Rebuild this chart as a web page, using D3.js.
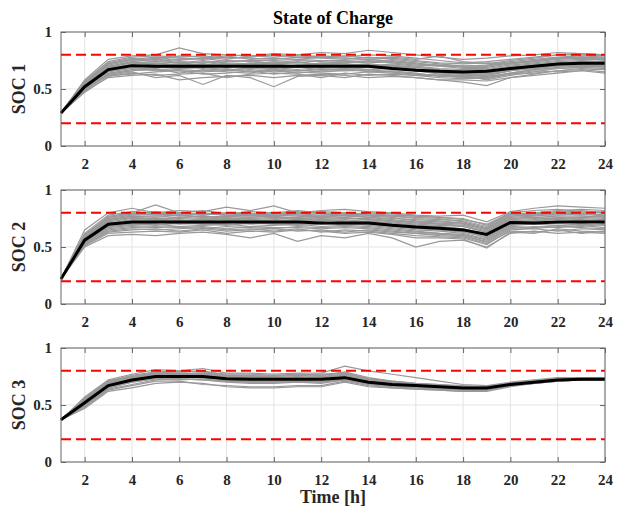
<!doctype html>
<html lang="en">
  <head>
    <meta charset="utf-8">
    <title>State of Charge</title>
    <style>
      body { margin: 0; background: #fff; }
      text { font-family: "Liberation Serif", "Times New Roman", serif; font-weight: bold; }
      .tick text { fill: #262626; font-size: 15px; }
      .domain { display: none; }
      .tick line { stroke: #666; }
    </style>
  </head>
  <body>
    <div id="chart"></div>
    <script src="https://d3js.org/d3.v7.min.js"></script>
    <script type="text/javascript">
      const w = 617;
      const h = 511;

      const hours = d3.range(1, 25);
      const xTicks = [2, 4, 6, 8, 10, 12, 14, 16, 18, 20, 22, 24];
      const yTicks = [0, 0.5, 1];
      const limits = [0.2, 0.8];

      // mean trajectories (black)
      const mean1 = [.29,.52,.67,.705,.70,.70,.70,.70,.70,.70,.70,.70,.70,.70,.68,.665,.655,.65,.655,.68,.70,.72,.725,.725];
      const mean2 = [.22,.56,.70,.72,.72,.72,.72,.72,.72,.72,.72,.71,.71,.71,.69,.675,.665,.65,.61,.715,.71,.72,.72,.72];
      const mean3 = [.37,.52,.67,.72,.75,.75,.75,.73,.725,.725,.725,.725,.74,.70,.68,.67,.66,.65,.65,.68,.70,.72,.725,.725];

      // scenario trajectories (gray)
      const soc1 = [
        [.29,.58,.76,.79,.80,.86,.81,.80,.79,.81,.80,.82,.81,.84,.82,.80,.78,.76,.77,.79,.80,.82,.81,.80],
        [.29,.50,.62,.65,.60,.62,.54,.62,.60,.52,.61,.62,.60,.63,.62,.60,.58,.56,.53,.60,.63,.66,.67,.65],
        [.29,.55,.72,.76,.78,.77,.76,.78,.77,.76,.78,.77,.76,.78,.76,.74,.72,.70,.71,.74,.76,.78,.79,.78],
        [.29,.48,.60,.62,.63,.58,.60,.61,.62,.60,.62,.63,.62,.60,.61,.60,.58,.58,.57,.60,.62,.64,.66,.64],
        [.29,.53,.68,.72,.73,.71,.72,.70,.73,.72,.70,.73,.72,.71,.70,.69,.67,.66,.66,.69,.71,.73,.74,.73],
        [.29,.51,.65,.68,.66,.67,.66,.68,.65,.66,.67,.65,.66,.67,.65,.63,.62,.60,.61,.64,.67,.69,.70,.69],
        [.29,.56,.73,.77,.75,.79,.78,.76,.79,.78,.80,.78,.79,.77,.78,.76,.79,.74,.72,.75,.77,.80,.80,.79],
        [.29,.49,.63,.66,.68,.64,.67,.65,.64,.67,.64,.66,.68,.65,.66,.64,.61,.62,.58,.62,.65,.68,.69,.70],
        [.29,.54,.70,.74,.72,.74,.73,.75,.74,.73,.75,.74,.73,.75,.73,.71,.70,.68,.68,.71,.73,.75,.76,.76],
        [.29,.52,.66,.70,.71,.69,.70,.72,.70,.71,.69,.70,.71,.72,.70,.68,.65,.64,.64,.67,.69,.71,.72,.71],
        [.29,.50,.64,.67,.69,.70,.68,.66,.69,.68,.66,.68,.67,.69,.68,.66,.63,.62,.62,.66,.68,.70,.71,.70],
        [.29,.55,.71,.75,.77,.75,.77,.79,.76,.77,.76,.78,.77,.76,.77,.75,.73,.72,.73,.72,.75,.77,.78,.77],
        [.29,.47,.61,.64,.62,.63,.64,.60,.63,.64,.63,.60,.64,.62,.63,.62,.60,.59,.60,.63,.64,.66,.68,.67],
        [.29,.53,.69,.73,.74,.73,.75,.73,.72,.74,.73,.72,.74,.73,.74,.72,.71,.69,.69,.72,.74,.76,.77,.75],
        [.29,.57,.74,.78,.79,.78,.79,.77,.78,.80,.78,.79,.78,.80,.79,.77,.75,.73,.74,.76,.78,.80,.81,.80],
        [.29,.51,.66,.69,.67,.68,.69,.67,.68,.67,.69,.67,.68,.67,.68,.66,.64,.63,.63,.66,.70,.72,.73,.72],
        [.29,.52,.67,.71,.70,.72,.71,.71,.69,.70,.71,.70,.69,.70,.71,.69,.67,.65,.65,.68,.71,.72,.74,.73],
        [.29,.49,.62,.63,.65,.66,.63,.64,.66,.63,.65,.64,.63,.65,.64,.62,.62,.60,.59,.63,.66,.65,.66,.68],
        [.29,.53,.70,.73,.71,.72,.74,.72,.71,.72,.74,.71,.72,.70,.72,.70,.68,.67,.67,.70,.72,.74,.75,.74],
        [.29,.51,.66,.69,.70,.68,.69,.71,.69,.68,.70,.69,.70,.69,.68,.66,.65,.63,.62,.66,.68,.70,.71,.71],
        [.29,.54,.69,.74,.76,.73,.71,.74,.75,.72,.73,.75,.74,.74,.75,.73,.70,.70,.70,.73,.74,.77,.77,.77],
        [.29,.50,.63,.66,.67,.66,.65,.66,.67,.65,.66,.67,.66,.66,.65,.63,.62,.61,.60,.64,.67,.68,.69,.68],
        [.29,.56,.72,.76,.74,.76,.77,.74,.75,.75,.76,.75,.75,.76,.74,.72,.71,.70,.70,.73,.75,.77,.78,.76],
        [.29,.52,.67,.71,.69,.70,.72,.69,.72,.69,.71,.72,.70,.71,.69,.67,.66,.65,.64,.67,.70,.71,.72,.70]
      ];
      const soc2 = [
        [.22,.65,.80,.84,.80,.82,.81,.85,.82,.86,.80,.82,.83,.81,.80,.78,.77,.78,.72,.81,.84,.86,.85,.84],
        [.22,.50,.60,.61,.60,.62,.63,.61,.58,.62,.55,.60,.58,.62,.58,.50,.55,.56,.50,.62,.64,.62,.63,.62],
        [.22,.60,.77,.80,.87,.80,.78,.80,.79,.80,.82,.80,.79,.78,.77,.75,.74,.73,.68,.79,.80,.82,.83,.82],
        [.22,.52,.64,.66,.65,.66,.67,.65,.66,.64,.66,.63,.65,.64,.62,.60,.59,.58,.52,.65,.66,.64,.66,.65],
        [.22,.58,.74,.77,.76,.78,.76,.77,.76,.78,.77,.76,.78,.76,.74,.72,.71,.70,.65,.76,.77,.79,.78,.79],
        [.22,.54,.67,.69,.70,.68,.69,.70,.68,.69,.70,.68,.69,.68,.66,.64,.62,.61,.56,.68,.67,.69,.68,.70],
        [.22,.62,.78,.81,.79,.80,.82,.79,.81,.80,.79,.81,.80,.79,.78,.77,.76,.74,.70,.80,.82,.83,.81,.80],
        [.22,.51,.62,.63,.64,.63,.65,.62,.64,.63,.65,.64,.62,.63,.61,.58,.58,.57,.49,.63,.62,.66,.64,.63],
        [.22,.57,.72,.75,.74,.75,.74,.76,.74,.75,.74,.75,.76,.74,.72,.70,.69,.68,.63,.74,.75,.74,.76,.75],
        [.22,.55,.69,.71,.72,.70,.71,.72,.70,.71,.72,.71,.70,.70,.68,.66,.65,.63,.59,.70,.71,.72,.71,.72],
        [.22,.53,.66,.68,.67,.68,.66,.68,.67,.66,.68,.67,.68,.67,.65,.63,.62,.60,.54,.66,.68,.67,.69,.67],
        [.22,.59,.75,.78,.79,.77,.79,.78,.77,.79,.78,.77,.78,.77,.76,.73,.72,.71,.66,.77,.79,.80,.79,.78],
        [.22,.56,.70,.73,.73,.74,.72,.73,.74,.72,.73,.74,.72,.73,.71,.69,.68,.66,.61,.72,.73,.75,.74,.73],
        [.22,.61,.76,.79,.78,.79,.80,.78,.79,.77,.79,.78,.80,.78,.77,.76,.75,.72,.67,.78,.80,.81,.80,.81],
        [.22,.52,.63,.65,.66,.64,.66,.64,.65,.66,.64,.65,.63,.65,.63,.62,.60,.59,.53,.64,.63,.65,.62,.64],
        [.22,.58,.73,.76,.75,.76,.77,.75,.76,.77,.75,.76,.75,.75,.73,.71,.70,.69,.64,.75,.76,.77,.77,.76],
        [.22,.54,.68,.70,.69,.71,.70,.69,.71,.70,.69,.70,.71,.69,.67,.65,.64,.62,.57,.69,.70,.69,.70,.69],
        [.22,.60,.76,.79,.81,.79,.78,.80,.78,.79,.81,.79,.78,.80,.79,.77,.76,.75,.69,.79,.78,.80,.82,.80],
        [.22,.57,.71,.74,.75,.73,.74,.75,.73,.74,.76,.73,.74,.72,.71,.69,.68,.66,.62,.73,.74,.76,.75,.74],
        [.22,.55,.68,.70,.71,.72,.70,.71,.72,.70,.71,.72,.69,.71,.69,.67,.65,.64,.58,.70,.72,.71,.72,.71],
        [.22,.59,.74,.77,.77,.78,.76,.77,.78,.76,.76,.77,.77,.76,.75,.74,.73,.71,.66,.77,.78,.78,.79,.77],
        [.22,.53,.65,.67,.68,.67,.68,.66,.68,.67,.67,.66,.67,.66,.64,.62,.61,.60,.55,.67,.66,.68,.67,.66],
        [.22,.56,.71,.72,.73,.73,.73,.74,.72,.73,.73,.74,.73,.72,.70,.68,.67,.65,.60,.72,.73,.74,.73,.74],
        [.22,.58,.73,.76,.74,.76,.75,.74,.75,.76,.75,.74,.75,.74,.73,.72,.70,.68,.63,.75,.76,.75,.76,.77]
      ];
      const soc3 = [
        [.37,.57,.72,.77,.81,.80,.82,.78,.78,.77,.78,.78,.84,.80,.77,.74,.71,.68,.67,.70,.72,.74,.74,.74],
        [.37,.47,.62,.65,.69,.70,.69,.66,.65,.65,.66,.66,.70,.66,.65,.64,.63,.62,.62,.66,.69,.71,.72,.72],
        [.37,.55,.70,.75,.78,.77,.78,.76,.75,.76,.75,.76,.78,.73,.71,.69,.68,.67,.66,.69,.71,.73,.73,.73],
        [.37,.49,.64,.68,.72,.73,.72,.70,.69,.69,.70,.69,.72,.68,.66,.65,.64,.63,.63,.67,.69,.71,.72,.72],
        [.37,.54,.69,.74,.77,.78,.77,.75,.74,.74,.74,.75,.76,.72,.70,.68,.67,.66,.65,.68,.71,.73,.73,.73],
        [.37,.50,.65,.70,.73,.72,.73,.71,.70,.70,.71,.70,.73,.69,.67,.66,.65,.64,.64,.67,.70,.72,.72,.72],
        [.37,.56,.71,.76,.79,.80,.79,.77,.77,.76,.77,.76,.79,.74,.71,.69,.68,.66,.66,.69,.71,.73,.74,.74],
        [.37,.51,.66,.71,.74,.74,.75,.72,.71,.71,.71,.71,.73,.69,.67,.66,.65,.64,.64,.68,.70,.72,.72,.72],
        [.37,.53,.68,.73,.76,.76,.76,.74,.73,.72,.73,.73,.75,.71,.69,.67,.66,.65,.65,.68,.70,.72,.73,.73],
        [.37,.48,.63,.67,.71,.71,.68,.67,.66,.66,.67,.67,.71,.67,.65,.64,.63,.62,.63,.67,.69,.71,.72,.72],
        [.37,.55,.70,.75,.78,.79,.80,.76,.76,.75,.76,.77,.78,.73,.70,.68,.67,.66,.66,.69,.71,.73,.73,.73],
        [.37,.52,.67,.72,.75,.75,.74,.73,.72,.73,.72,.72,.74,.70,.68,.67,.66,.65,.65,.68,.70,.72,.72,.73],
        [.37,.53,.68,.73,.76,.77,.76,.74,.73,.73,.74,.74,.75,.71,.69,.67,.66,.65,.65,.68,.70,.72,.73,.73],
        [.37,.51,.66,.71,.74,.74,.74,.72,.71,.71,.71,.71,.73,.69,.67,.66,.65,.64,.64,.67,.70,.72,.72,.72],
        [.37,.54,.69,.74,.77,.76,.77,.75,.74,.74,.74,.74,.76,.72,.70,.68,.67,.66,.66,.69,.71,.73,.73,.73],
        [.37,.50,.65,.70,.73,.73,.72,.71,.70,.70,.70,.70,.72,.68,.66,.65,.64,.63,.64,.67,.69,.71,.72,.72],
        [.37,.55,.71,.75,.78,.78,.78,.76,.75,.75,.76,.75,.77,.73,.70,.68,.67,.66,.66,.69,.71,.73,.74,.74],
        [.37,.52,.67,.72,.75,.76,.75,.73,.72,.72,.72,.73,.74,.70,.68,.67,.66,.65,.65,.68,.70,.72,.73,.73]
      ];

      const panels = [
        { label: 'SOC 1', mean: mean1, lines: soc1, top: 32 },
        { label: 'SOC 2', mean: mean2, lines: soc2, top: 190 },
        { label: 'SOC 3', mean: mean3, lines: soc3, top: 348 }
      ];

      const left = 61;
      const right = 605;
      const ph = 114;

      const svg = d3.select('#chart')
                    .append('svg')
                    .attr('width', w)
                    .attr('height', h);

      const x = d3.scaleLinear().domain([1, 24]).range([left, right]);

      panels.forEach(p => {
        const y = d3.scaleLinear().domain([0, 1]).range([p.top + ph, p.top]);
        const g = svg.append('g');

        // grid
        g.selectAll('.vgrid')
          .data(xTicks)
          .enter()
          .append('line')
          .attr('x1', d => x(d)).attr('x2', d => x(d))
          .attr('y1', y(0)).attr('y2', y(1))
          .attr('stroke', '#e3e3e3');
        g.selectAll('.hgrid')
          .data(yTicks)
          .enter()
          .append('line')
          .attr('x1', left).attr('x2', right)
          .attr('y1', d => y(d)).attr('y2', d => y(d))
          .attr('stroke', '#e3e3e3');

        const line = d3.line().x((d, i) => x(hours[i])).y(d => y(d));

        g.selectAll('.scen')
          .data(p.lines)
          .enter()
          .append('path')
          .attr('d', line)
          .attr('fill', 'none')
          .attr('stroke', '#999')
          .attr('stroke-width', 1.2);

        g.selectAll('.lim')
          .data(limits)
          .enter()
          .append('line')
          .attr('x1', left).attr('x2', right)
          .attr('y1', d => y(d)).attr('y2', d => y(d))
          .attr('stroke', '#ff0000')
          .attr('stroke-width', 2)
          .attr('stroke-dasharray', '10,5');

        g.append('path')
          .attr('d', line(p.mean))
          .attr('fill', 'none')
          .attr('stroke', '#000')
          .attr('stroke-width', 3);

        // axes, ticks pointing inward
        g.append('g')
          .attr('transform', `translate(0,${y(0)})`)
          .call(d3.axisBottom(x).tickValues(xTicks).tickSize(-5).tickPadding(12));
        g.append('g')
          .attr('transform', `translate(0,${y(1)})`)
          .call(d3.axisTop(x).tickValues(xTicks).tickSize(-5).tickFormat(''));
        g.append('g')
          .attr('transform', `translate(${left},0)`)
          .call(d3.axisLeft(y).tickValues(yTicks).tickSize(-5).tickPadding(9).tickFormat(d3.format('')));
        g.append('g')
          .attr('transform', `translate(${right},0)`)
          .call(d3.axisRight(y).tickValues(yTicks).tickSize(-5).tickFormat(''));

        g.append('rect')
          .attr('x', left)
          .attr('y', p.top)
          .attr('width', right - left)
          .attr('height', ph)
          .attr('fill', 'none')
          .attr('stroke', '#666');

        g.append('text')
          .attr('transform', `translate(25,${p.top + ph / 2}) rotate(-90)`)
          .attr('text-anchor', 'middle')
          .attr('font-size', 18)
          .attr('fill', '#262626')
          .text(p.label);
      });

      svg.append('text')
        .attr('x', (left + right) / 2)
        .attr('y', 24)
        .attr('text-anchor', 'middle')
        .attr('font-size', 18)
        .attr('fill', '#000')
        .text('State of Charge');

      svg.append('text')
        .attr('x', (left + right) / 2)
        .attr('y', 503)
        .attr('text-anchor', 'middle')
        .attr('font-size', 18)
        .attr('fill', '#262626')
        .text('Time [h]');
    </script>
  </body>
</html>
